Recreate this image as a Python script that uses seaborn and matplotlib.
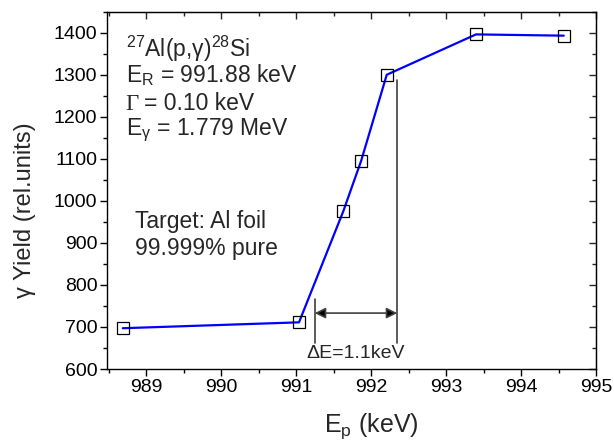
import matplotlib
matplotlib.use("Agg")
import matplotlib.pyplot as plt
from matplotlib.ticker import MultipleLocator
import seaborn as sns
import pandas as pd

# Proton energy (keV) and gamma yield (relative units) across the resonance
proton_energy = [988.69, 991.04, 991.63, 991.87, 992.21, 993.40, 994.57]
gamma_yield = [697, 711, 975, 1096, 1300, 1396, 1393]

x_ticks = [989, 990, 991, 992, 993, 994, 995]
y_ticks = [600, 700, 800, 900, 1000, 1100, 1200, 1300, 1400]

# Width of the resonance rise
delta_e_start = 991.25
delta_e = 1.1

sns.set_style("ticks")
plt.rcParams["font.family"] = ["Liberation Sans", "DejaVu Sans"]
plt.rcParams["mathtext.fontset"] = "custom"
plt.rcParams["mathtext.rm"] = "Liberation Sans"
plt.rcParams["mathtext.it"] = "Liberation Sans:italic"
plt.rcParams["mathtext.bf"] = "Liberation Sans:bold"

fig = plt.figure(figsize=(6.14, 4.46), dpi=100)
ax = fig.add_axes([107 / 614, 1 - 369 / 446, 489 / 614, (369 - 11.7) / 446])

df = pd.DataFrame({"Ep": proton_energy, "Y": gamma_yield})
sns.lineplot(data=df, x="Ep", y="Y", ax=ax, sort=False, color="#0000ff",
             linewidth=1.6, marker="s", markersize=8, markerfacecolor="none",
             markeredgecolor="black", markeredgewidth=0.9)

ax.set_xlim(988.48, 995)
ax.set_ylim(600, 1450)
ax.set_xticks(x_ticks)
ax.set_yticks(y_ticks)
ax.xaxis.set_minor_locator(MultipleLocator(0.5))
ax.yaxis.set_minor_locator(MultipleLocator(50))

for s in ax.spines.values():
    s.set_linewidth(1.0)
    s.set_color("black")
    s.set_visible(True)

ax.tick_params(which="major", direction="out", length=5, width=1.0,
               labelsize=14, pad=2, colors="black")
ax.tick_params(which="minor", direction="out", length=3, width=1.0, colors="black")

# inward mirror ticks on the top and right edges
top = ax.secondary_xaxis("top")
top.set_xticks(x_ticks)
top.xaxis.set_minor_locator(MultipleLocator(0.5))
top.tick_params(which="major", direction="in", length=5, width=1.0, labeltop=False)
top.tick_params(which="minor", direction="in", length=3, width=1.0)
right = ax.secondary_yaxis("right")
right.set_yticks(y_ticks)
right.yaxis.set_minor_locator(MultipleLocator(50))
right.tick_params(which="major", direction="in", length=5, width=1.0, labelright=False)
right.tick_params(which="minor", direction="in", length=3, width=1.0)

ax.set_xlabel(r"E$_\mathregular{p}$ (keV)", fontsize=18)
ax.set_ylabel("γ Yield (rel.units)", fontsize=17)
ax.xaxis.set_label_coords(0.54, -0.118)
ax.yaxis.set_label_coords(-0.145, 0.445)

# reaction and resonance parameters
txt_kw = dict(fontsize=16.5, va="baseline", ha="left")
ax.text(988.73, 1343, r"$\mathregular{^{27}}$Al(p,γ)$\mathregular{^{28}}$Si", **txt_kw)
ax.text(988.73, 1283, r"E$\mathregular{_R}$ = 991.88 keV", **txt_kw)
ax.text(988.73, 1217, "Γ", family="Liberation Serif", **txt_kw)
ax.annotate("= 0.10 keV", xy=(988.73, 1217), xytext=(13.5, 0),
            textcoords="offset points", fontsize=16.5, va="baseline", ha="left")
ax.text(988.73, 1157, r"E$\mathregular{_γ}$ = 1.779 MeV", **txt_kw)

ax.text(988.85, 936, "Target: Al foil", **txt_kw)
ax.text(988.85, 871, "99.999% pure", **txt_kw)

# resonance width marker
x_lo = delta_e_start
x_hi = delta_e_start + delta_e
ax.plot([x_lo, x_lo], [662, 767], color="#404040", linewidth=1.2)
ax.plot([x_hi, x_hi], [662, 1288], color="#404040", linewidth=1.2)
ax.annotate("", xy=(x_lo, 733), xytext=(x_hi, 733),
            arrowprops=dict(arrowstyle="<|-|>", color="#404040", lw=1.2,
                            mutation_scale=16, shrinkA=0, shrinkB=0,
                            fc="black", ec="#404040"))
ax.text((x_lo + x_hi) / 2, 636, f"ΔE={delta_e:.1f}keV", fontsize=14,
        ha="center", va="center")

fig.savefig("out.png", dpi=100)
